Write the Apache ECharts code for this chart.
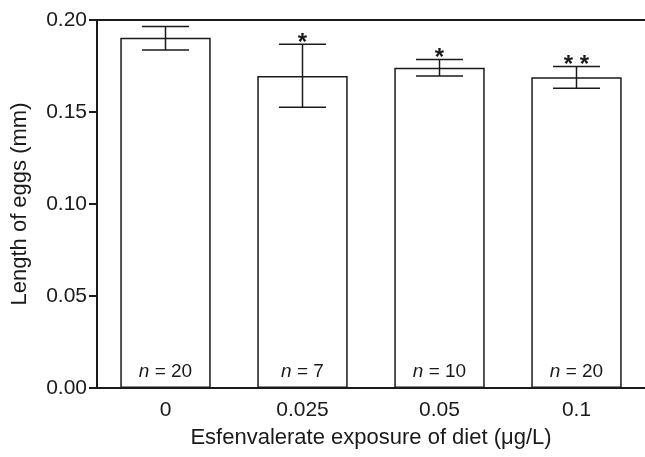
<!DOCTYPE html>
<html>
<head>
<meta charset="utf-8">
<script src="https://cdn.jsdelivr.net/npm/echarts@6/dist/echarts.min.js"></script>
<style>
  html, body { margin: 0; padding: 0; background: #fff; }
  #chart { width: 645px; height: 457px; }
</style>
</head>
<body>
<div id="chart"></div>
<script>
"use strict";
// data
var doses = ["0", "0.025", "0.05", "0.1"];
var means = [0.1904, 0.1696, 0.1741, 0.1689];
var errLow = [0.1837, 0.1526, 0.1696, 0.1629];
var errHigh = [0.1964, 0.1868, 0.1785, 0.1747];
var nValues = [20, 7, 10, 20];
var stars = ["", "*", "*", "* *"];
var yTicks = { min: 0, max: 0.2, step: 0.05 };

var ink = "#1a1a1a";
var font = "Liberation Sans, Arial, sans-serif";

var errData = doses.map(function (d, i) {
    return [i, errLow[i], errHigh[i], i];
});

function renderErr(params, api) {
    var i = api.value(3);
    var lo = api.coord([api.value(0), api.value(1)]);
    var hi = api.coord([api.value(0), api.value(2)]);
    var half = 23.5;
    var ls = { stroke: ink, lineWidth: 1.5 };
    var kids = [
        { type: "line", shape: { x1: lo[0], y1: lo[1], x2: hi[0], y2: hi[1] }, style: ls },
        { type: "line", shape: { x1: lo[0] - half, y1: lo[1], x2: lo[0] + half, y2: lo[1] }, style: ls },
        { type: "line", shape: { x1: hi[0] - half, y1: hi[1], x2: hi[0] + half, y2: hi[1] }, style: ls }
    ];
    if (stars[i]) {
        kids.push({
            type: "text",
            style: {
                text: stars[i], x: hi[0], y: hi[1] - 1,
                textAlign: "center", textVerticalAlign: "middle",
                font: "bold 24px " + font, fill: ink
            }
        });
    }
    return { type: "group", children: kids };
}

var chart = echarts.init(document.getElementById("chart"), null, { renderer: "canvas" });
chart.setOption({
    animation: false,
    backgroundColor: "#fff",
    grid: { left: 97, top: 20, width: 551, height: 368 },
    xAxis: [{
        type: "category",
        data: doses,
        name: "Esfenvalerate exposure of diet (\u03bcg/L)",
        nameLocation: "middle",
        nameGap: 39,
        nameTextStyle: { fontFamily: font, fontSize: 22, color: ink },
        axisLine: { lineStyle: { color: ink, width: 2 } },
        axisTick: { alignWithLabel: true, length: 8, lineStyle: { color: ink, width: 2 } },
        axisLabel: { fontFamily: font, fontSize: 21, color: ink, margin: 12 }
    }, {
        type: "category",
        position: "top",
        data: doses,
        axisLine: { lineStyle: { color: ink, width: 2 } },
        axisTick: { show: false },
        axisLabel: { show: false }
    }],
    yAxis: {
        type: "value",
        min: yTicks.min,
        max: yTicks.max,
        interval: yTicks.step,
        name: "Length of eggs (mm)",
        nameLocation: "middle",
        nameGap: 66,
        nameTextStyle: { fontFamily: font, fontSize: 22, color: ink },
        axisLine: { show: true, lineStyle: { color: ink, width: 2 } },
        axisTick: { show: true, length: 8, lineStyle: { color: ink, width: 2 } },
        axisLabel: {
            fontFamily: font, fontSize: 21, color: ink, margin: 10,
            formatter: function (v) { return v.toFixed(2); }
        },
        splitLine: { show: false }
    },
    series: [{
        type: "bar",
        data: means,
        barWidth: "66%",
        itemStyle: { color: "#fff", borderColor: ink, borderWidth: 1.5 },
        label: {
            show: true,
            position: "insideBottom",
            distance: 7,
            formatter: function (p) { return "{i|n} = " + nValues[p.dataIndex]; },
            fontFamily: font, fontSize: 19, color: ink,
            rich: { i: { fontStyle: "italic", fontFamily: font, fontSize: 19, color: ink } }
        },
        silent: true
    }, {
        type: "custom",
        data: errData,
        renderItem: renderErr,
        encode: { x: 0, y: [1, 2] },
        z: 5,
        silent: true
    }]
});
</script>
</body>
</html>
